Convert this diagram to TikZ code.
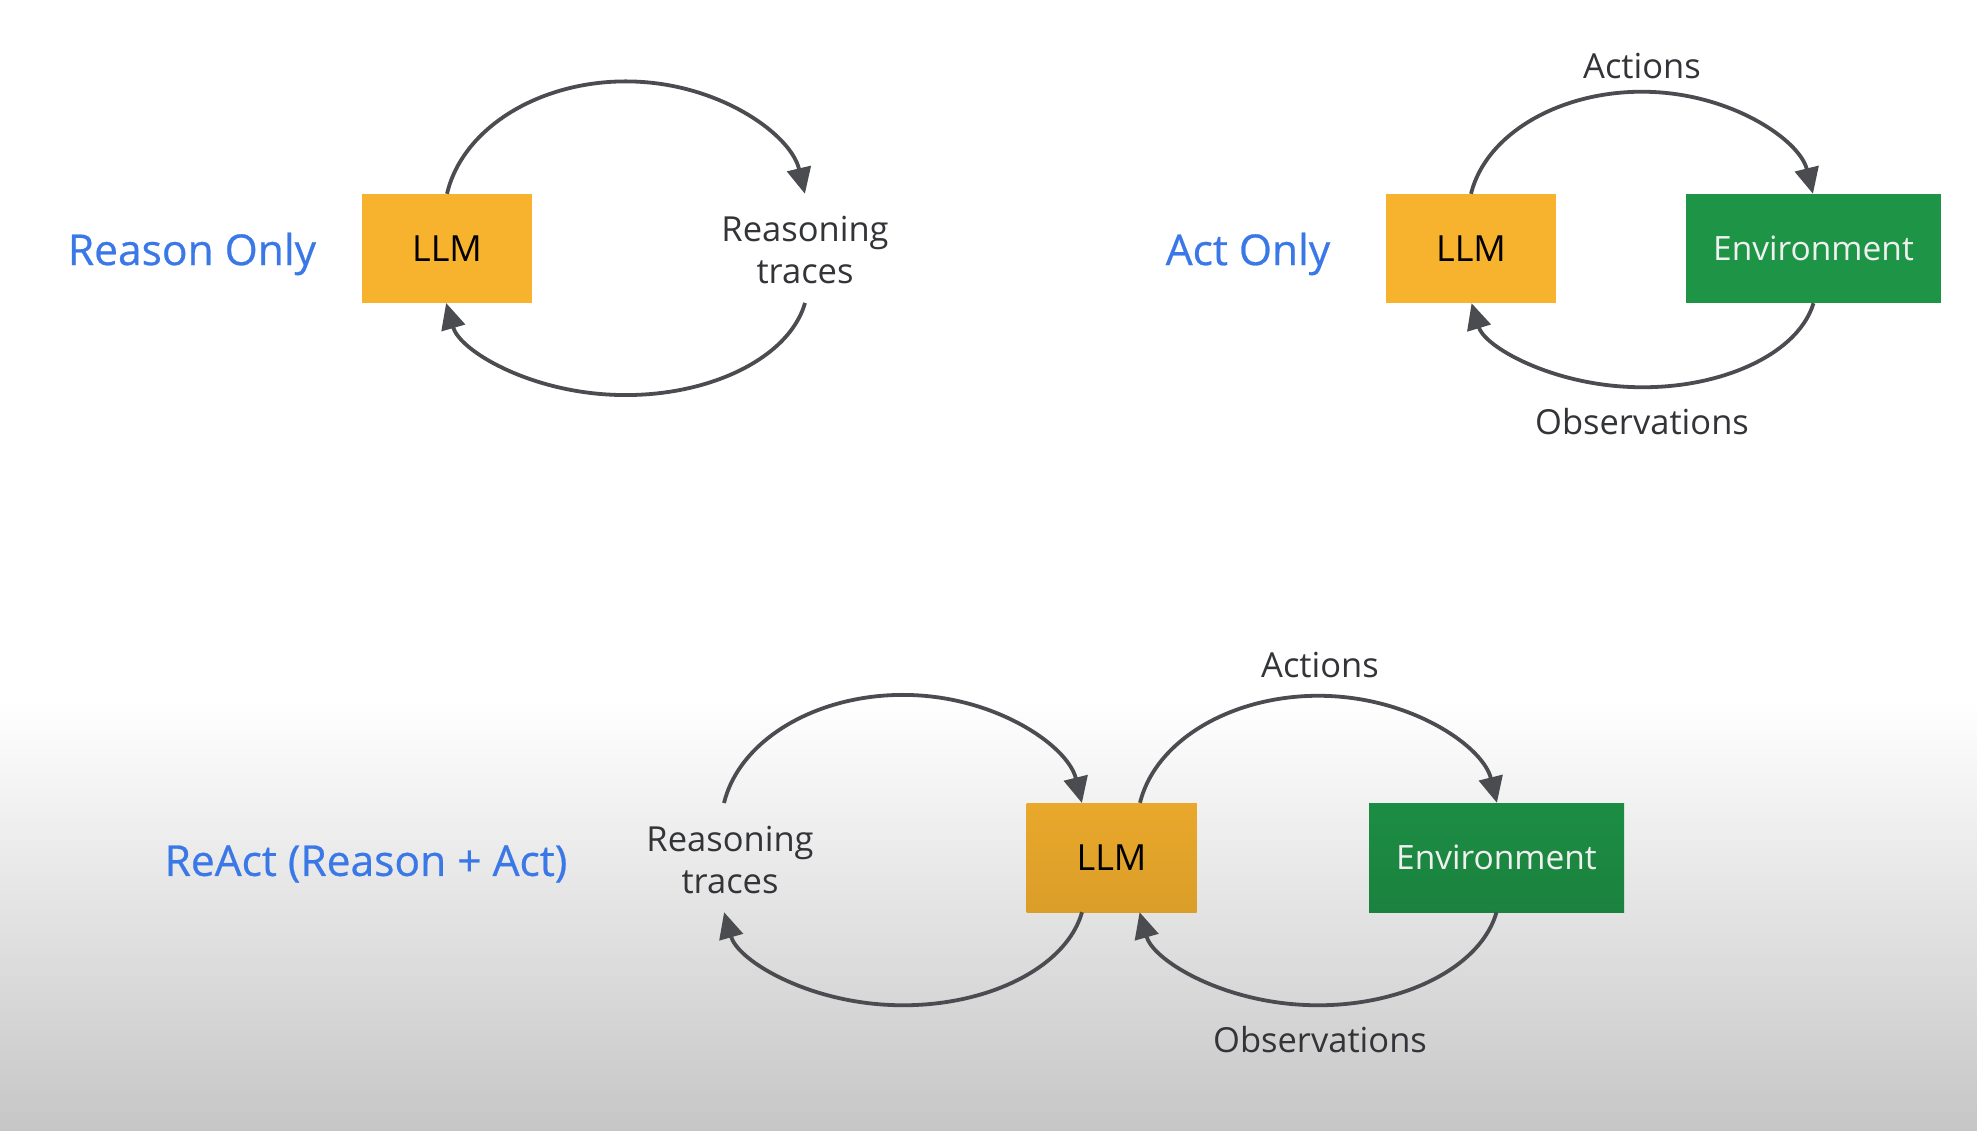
\documentclass[tikz,border=0pt]{standalone}
\usepackage{fontspec}
\setmainfont{Open Sans}
\newfontfamily\titlefont[FakeBold=0.6]{Open Sans}
\usetikzlibrary{arrows.meta}
\definecolor{titleblue}{HTML}{3B78E7}
\definecolor{llmyellow}{HTML}{F8B32E}
\definecolor{envgreen}{HTML}{1E9447}
\definecolor{arrowgray}{HTML}{4A4C50}
\definecolor{labelgray}{HTML}{333438}
\definecolor{bggray}{HTML}{C6C6C6}
\tikzset{
  titletext/.style={text=titleblue, font=\titlefont\fontsize{42.5}{50}\selectfont, inner sep=0pt},
  labeltext/.style={text=labelgray, font=\fontsize{34.5}{42}\selectfont, align=center, inner sep=0pt},
  llmbox/.style={fill=llmyellow, minimum width=170pt, minimum height=109pt, inner sep=0pt, text=black, font=\fontsize{36}{40}\selectfont},
  envbox/.style={fill=envgreen, minimum width=255pt, minimum height=109pt, inner sep=0pt, text=white!94!black, font=\fontsize{33.5}{40}\selectfont},
  llmboxdark/.style={llmbox, top color=llmyellow!94!black, bottom color=llmyellow!88!black},
  envboxdark/.style={envbox, top color=envgreen!95!black, bottom color=envgreen!88!black},
  loop/.style={draw=arrowgray, line width=3.8pt, -{Triangle[length=26pt,width=24pt]}},
}
\begin{document}
\begin{tikzpicture}[x=1pt, y=-1pt]
\useasboundingbox (0,0) rectangle (1977,1131);
\fill[white] (0,0) rectangle (1977,1131);
\shade[top color=white, bottom color=bggray] (0,700) rectangle (1977,1131);

% ---------- Reason Only ----------
\node[titletext] (t1) at (192,254) {Reason Only};
\node[llmbox] (llm1) at (447,248.5) {LLM};
\node[labeltext] (rt1) at (805,250) {Reasoning\\traces};
\coordinate (rt1bot) at (805,303);
\draw[loop] (llm1.north) arc[start angle=190, end angle=350, x radius=181.7, y radius=136];
\draw[loop] (rt1bot) arc[start angle=10, end angle=170, x radius=182.2, y radius=111.4];

% ---------- Act Only ----------
\node[titletext] (t2) at (1248,254) {Act Only};
\node[llmbox] (llm2) at (1471,248.5) {LLM};
\node[envbox] (env2) at (1813.5,248.5) {Environment};
\node[labeltext] (act2) at (1642,66) {Actions};
\node[labeltext] (obs2) at (1642,422) {Observations};
\draw[loop] (llm2.north) arc[start angle=190, end angle=350, x radius=173.6, y radius=123.5];
\draw[loop] (env2.south) arc[start angle=10, end angle=170, x radius=173.6, y radius=101.7];

% ---------- ReAct ----------
\node[titletext] (t3) at (366,864) {ReAct (Reason + Act)};
\node[labeltext] (rt3) at (730,860) {Reasoning\\traces};
\coordinate (rt3top) at (724,803);
\node[llmboxdark] (llm3) at (1111.5,857.5) {LLM};
\node[envboxdark] (env3) at (1496.5,857.5) {Environment};
\node[labeltext] (act3) at (1320,665) {Actions};
\node[labeltext] (obs3) at (1320,1040) {Observations};
\draw[loop] (rt3top) arc[start angle=190, end angle=350, x radius=181.7, y radius=130.8];
\draw[loop] ([xshift=-29.5pt]llm3.south) arc[start angle=10, end angle=170, x radius=181.7, y radius=112.6];
\draw[loop] ([xshift=28.5pt]llm3.north) arc[start angle=190, end angle=350, x radius=181.2, y radius=129.5];
\draw[loop] (env3.south) arc[start angle=10, end angle=170, x radius=181.2, y radius=112.6];
\end{tikzpicture}
\end{document}
